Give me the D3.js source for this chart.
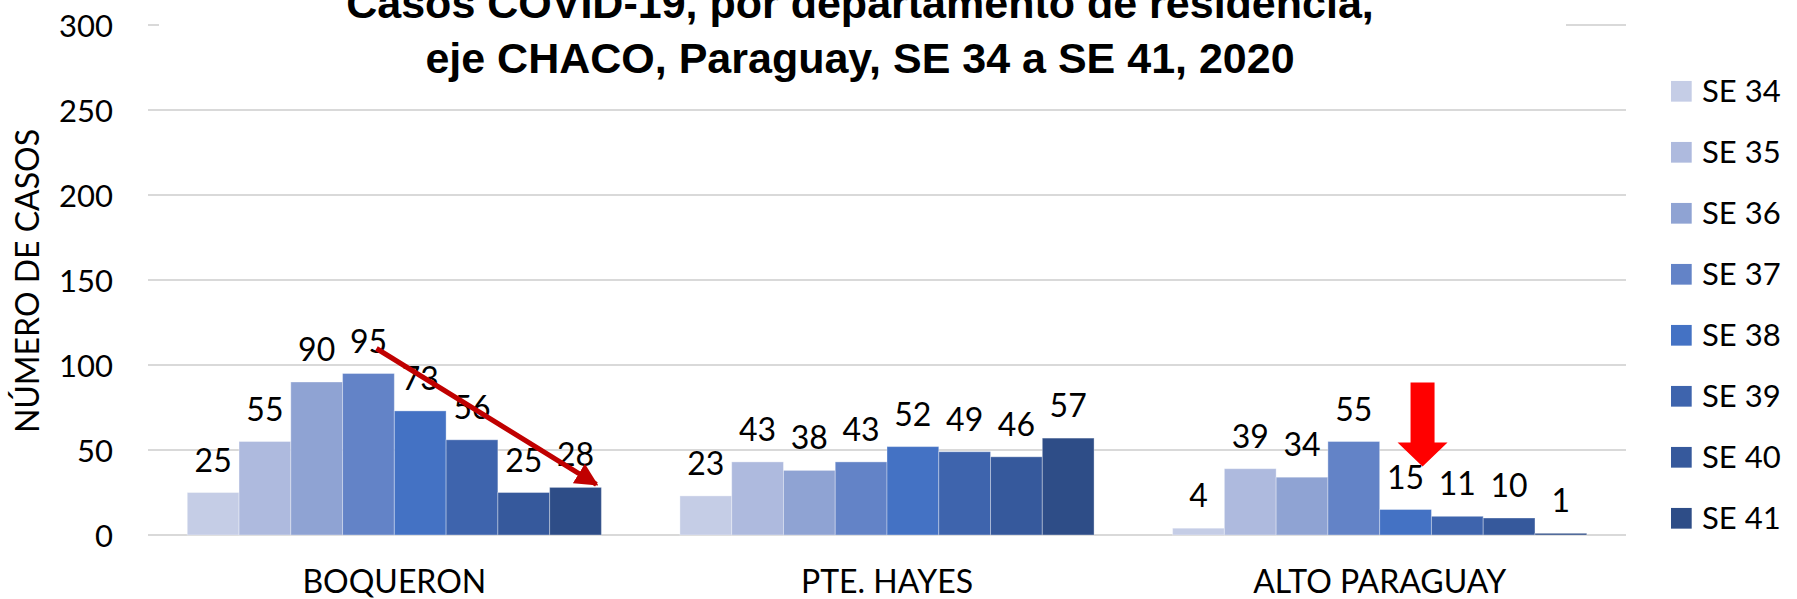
<!DOCTYPE html>
<html>
<head>
<meta charset="utf-8">
<script src="https://cdn.jsdelivr.net/npm/d3@7"></script>
<style>
  html, body { margin: 0; padding: 0; background: #fff; }
  svg { display: block; }
</style>
</head>
<body>
<svg id="chart" width="1797" height="599"></svg>
<script>
// ---- DATA ----
const categories = ["BOQUERON", "PTE. HAYES", "ALTO PARAGUAY"];
const seriesNames = ["SE 34", "SE 35", "SE 36", "SE 37", "SE 38", "SE 39", "SE 40", "SE 41"];
const boqueron   = [25, 55, 90, 95, 73, 56, 25, 28];
const pteHayes   = [23, 43, 38, 43, 52, 49, 46, 57];
const altoParaguay = [4, 39, 34, 55, 15, 11, 10, 1];
const yTicks = [0, 50, 100, 150, 200, 250, 300];
const seriesColors = ["#C5CDE6", "#AEBADE", "#8FA3D3", "#6383C7", "#4472C4", "#3E64AD", "#36599C", "#2E4D87"];
const titleLines = ["Casos COVID-19, por departamento de residencia,", "eje CHACO, Paraguay, SE 34 a SE 41, 2020"];
const yAxisTitle = "NÚMERO DE CASOS";

const valuesByCategory = [boqueron, pteHayes, altoParaguay];

// ---- LAYOUT ----
const svg = d3.select("#chart");
const plotLeft = 148, plotRight = 1626;
const yTop = 25, yBottom = 535;
const font = "Lato, 'Open Sans', sans-serif";

const y = d3.scaleLinear().domain([0, 300]).range([yBottom, yTop]);
const x0 = d3.scaleBand().domain(categories).range([plotLeft, plotRight]).paddingInner(0).paddingOuter(0);
const bw = x0.bandwidth();
const groupInset = bw * 0.0797;
const x1 = d3.scaleBand().domain(seriesNames).range([groupInset, bw - groupInset]).padding(0);
const color = d3.scaleOrdinal().domain(seriesNames).range(seriesColors);

// gridlines
svg.append("g").selectAll("line").data(yTicks).join("line")
  .attr("x1", plotLeft).attr("x2", plotRight)
  .attr("y1", d => y(d)).attr("y2", d => y(d))
  .attr("stroke", "#D9D9D9").attr("stroke-width", 2);

// y axis tick labels
const yAxis = d3.axisLeft(y).tickValues(yTicks).tickSize(0).tickPadding(0);
const yAxisG = svg.append("g").attr("transform", `translate(113,0)`).call(yAxis);
yAxisG.select(".domain").remove();
yAxisG.selectAll("text")
  .attr("font-family", font).attr("font-size", 31).attr("fill", "#000")
  .attr("dy", "0.36em");

// y axis title
svg.append("text")
  .attr("transform", `translate(39,281) rotate(-90)`)
  .attr("text-anchor", "middle")
  .attr("font-family", font).attr("font-size", 32).attr("fill", "#000")
  .text(yAxisTitle);

// bars
const data = [];
categories.forEach((c, i) => {
  seriesNames.forEach((s, j) => data.push({ cat: c, series: s, value: valuesByCategory[i][j] }));
});

const gBars = svg.append("g");
gBars.selectAll("rect").data(data).join("rect")
  .attr("x", d => x0(d.cat) + x1(d.series))
  .attr("y", d => y(d.value))
  .attr("width", x1.bandwidth())
  .attr("height", d => y(0) - y(d.value))
  .attr("fill", d => color(d.series))
  .attr("stroke", "#ffffff").attr("stroke-opacity", 0.35).attr("stroke-width", 1);

// data labels
gBars.selectAll("text").data(data).join("text")
  .attr("x", d => x0(d.cat) + x1(d.series) + x1.bandwidth() / 2)
  .attr("y", d => y(d.value) - 21)
  .attr("text-anchor", "middle")
  .attr("font-family", font).attr("font-size", 32).attr("fill", "#000")
  .text(d => d.value);

// category labels
const xAxis = d3.axisBottom(x0).tickSize(0).tickPadding(0);
const xAxisG = svg.append("g").attr("transform", `translate(0,${yBottom})`).call(xAxis);
xAxisG.select(".domain").remove();
xAxisG.selectAll("text")
  .attr("font-family", font).attr("font-size", 32).attr("fill", "#000")
  .attr("y", 58).attr("dy", 0);

// title background and title
svg.append("rect").attr("x", 159).attr("y", 0).attr("width", 1566 - 159).attr("height", 88).attr("fill", "#fff");
const title = svg.append("text")
  .attr("text-anchor", "middle")
  .attr("font-family", "'Liberation Sans', Arial, sans-serif")
  .attr("font-weight", "bold").attr("font-size", 43).attr("fill", "#000");
title.selectAll("tspan").data(titleLines).join("tspan")
  .attr("x", 860).attr("y", (d, i) => 18 + i * 55)
  .text(d => d);

// legend
const legend = svg.append("g");
const legendItems = legend.selectAll("g").data(seriesNames).join("g")
  .attr("transform", (d, i) => `translate(1671,${91.3 + i * 61})`);
legendItems.append("rect")
  .attr("x", 0).attr("y", -10.35).attr("width", 20.7).attr("height", 20.7)
  .attr("fill", d => color(d));
legendItems.append("text")
  .attr("x", 31).attr("y", 0).attr("dy", "0.36em")
  .attr("font-family", font).attr("font-size", 31).attr("fill", "#000")
  .text(d => d);

// annotation: dark red decreasing arrow in BOQUERON
const defs = svg.append("defs");
defs.append("marker").attr("id", "ah")
  .attr("viewBox", "0 0 10 10").attr("refX", 9).attr("refY", 5)
  .attr("markerWidth", 4.6).attr("markerHeight", 4.6).attr("markerUnits", "strokeWidth")
  .attr("orient", "auto")
  .append("path").attr("d", "M0,0 L10,5 L0,10 Z").attr("fill", "#C00000");

const bx = x0("BOQUERON");
const aStart = [bx + x1("SE 37") + x1.bandwidth() / 2 + 8, y(95) - 25];
const aEnd = [bx + x1("SE 41") + x1.bandwidth() - 5, y(28) - 3];
svg.append("line")
  .attr("x1", aStart[0]).attr("y1", aStart[1])
  .attr("x2", aEnd[0]).attr("y2", aEnd[1])
  .attr("stroke", "#C00000").attr("stroke-width", 5)
  .attr("marker-end", "url(#ah)");

// annotation: red block arrow in ALTO PARAGUAY over SE 38
const ax = x0("ALTO PARAGUAY");
const cx = ax + x1("SE 38") + x1.bandwidth() / 2 + 17;
const tipY = y(15) - 43;
const blockArrow = [
  [cx - 12, tipY - 84], [cx + 12, tipY - 84], [cx + 12, tipY - 24],
  [cx + 25, tipY - 24], [cx, tipY], [cx - 25, tipY - 24], [cx - 12, tipY - 24]
];
svg.append("path")
  .attr("d", d3.line()(blockArrow) + "Z")
  .attr("fill", "#FF0000");
</script>
</body>
</html>
